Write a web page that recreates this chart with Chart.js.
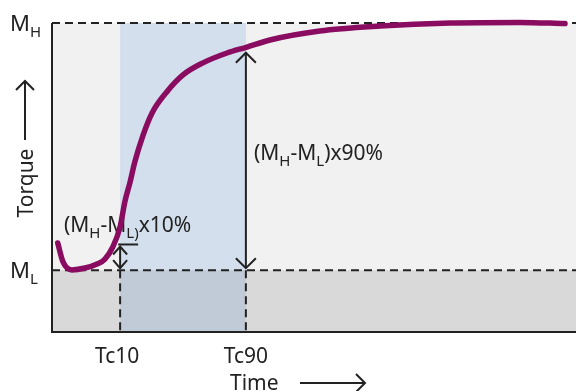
<!DOCTYPE html>
<html>
<head>
<meta charset="utf-8">
<script src="https://cdn.jsdelivr.net/npm/chart.js@4/dist/chart.umd.min.js"></script>
<style>
  html, body { margin: 0; padding: 0; background: #fff; }
  #wrap { width: 576px; height: 391px; }
</style>
</head>
<body>
<div id="wrap"><canvas id="cureChart"></canvas></div>
<script>
// rheometer cure curve, time 0-100, torque 0-100 (ML = 20, MH = 100)
var timeVals   = [1.1, 2.1, 3.8, 6.3, 8.6, 10.1, 11.6, 13, 13.9, 14.9, 15.8, 17.4, 19.1, 21.9, 25, 28.8, 33.4, 37.2, 41.6, 51.1, 62.6, 76, 89.3, 97.9]
var torqueVals = [28.8, 22.7, 20.1, 20.7, 22, 23.6, 27.5, 34, 42.1, 48.5, 55, 63.8, 70.9, 77.7, 83.2, 87.1, 90.3, 92.2, 94.5, 97.4, 99, 100, 100.2, 99.8]
var ML = 20
var MH = 100
var tickNames = ['Tc10', 'Tc90']
var tickTimes = [13, 37]

var FONT = '"Noto Sans", sans-serif'
var INK = '#222'

function drawParts(ctx, x, y, parts, size, subSize) {
  parts.forEach(function (p) {
    ctx.font = (p[1] ? subSize : size) + 'px ' + FONT
    ctx.fillText(p[0], x, y + (p[1] ? 6 : 0))
    x += ctx.measureText(p[0]).width
  })
}

function arrowHead(ctx, x, y, dir, w, h) {
  // dir: 'up','down','right'
  ctx.beginPath()
  if (dir == 'up') { ctx.moveTo(x - w, y + h); ctx.lineTo(x, y); ctx.lineTo(x + w, y + h) }
  if (dir == 'down') { ctx.moveTo(x - w, y - h); ctx.lineTo(x, y); ctx.lineTo(x + w, y - h) }
  if (dir == 'right') { ctx.moveTo(x - h, y - w); ctx.lineTo(x, y); ctx.lineTo(x - h, y + w) }
  ctx.stroke()
}

function line(ctx, x1, y1, x2, y2) {
  ctx.beginPath(); ctx.moveTo(x1, y1); ctx.lineTo(x2, y2); ctx.stroke()
}

var cureDecor = {
  id: 'cureDecor',
  beforeDatasetsDraw: function (chart) {
    var ctx = chart.ctx, a = chart.chartArea, xs = chart.scales.x, ys = chart.scales.y
    var yL = ys.getPixelForValue(ML), yH = ys.getPixelForValue(MH)
    var x10 = xs.getPixelForValue(tickTimes[0]), x90 = xs.getPixelForValue(tickTimes[1])
    ctx.save()
    ctx.fillStyle = '#f1f1f1'; ctx.fillRect(a.left, yH, a.right - a.left, yL - yH)
    ctx.fillStyle = '#d9d9d9'; ctx.fillRect(a.left, yL, a.right - a.left, a.bottom - yL)
    ctx.fillStyle = '#d3dfec'; ctx.fillRect(x10, yH, x90 - x10, yL - yH)
    ctx.fillStyle = '#c1cbd7'; ctx.fillRect(x10, yL, x90 - x10, a.bottom - yL)

    ctx.strokeStyle = INK
    ctx.lineWidth = 2
    // axes
    line(ctx, a.left, yH, a.left, a.bottom + 1)
    line(ctx, a.left, a.bottom, a.right, a.bottom)
    // dashed guides
    ctx.setLineDash([8, 5])
    line(ctx, a.left, yH, a.right, yH)
    line(ctx, a.left, yL, a.right, yL)
    line(ctx, x10, yL, x10, a.bottom)
    line(ctx, x90, yL, x90, a.bottom)
    ctx.setLineDash([])

    // texts
    ctx.fillStyle = INK
    ctx.textBaseline = 'alphabetic'
    ctx.textAlign = 'left'
    drawParts(ctx, 10, yH + 8, [['M'], ['H', 1]], 22, 15)
    drawParts(ctx, 10, yL + 8, [['M'], ['L', 1]], 22, 15)
    drawParts(ctx, 64, 232, [['(M'], ['H', 1], ['-M'], ['L)', 1], ['x10%']], 21, 15)
    drawParts(ctx, 254, 160, [['(M'], ['H', 1], ['-M'], ['L', 1], [')x90%']], 21, 15)

    ctx.font = '21px ' + FONT
    ctx.textAlign = 'center'
    tickNames.forEach(function (name, i) {
      ctx.fillText(name, xs.getPixelForValue(tickTimes[i]) - (i == 0 ? 3 : 0), 363)
    })
    ctx.textAlign = 'left'
    ctx.fillText('Time', 230, 390)

    ctx.save()
    ctx.translate(33, 183)
    ctx.rotate(-Math.PI / 2)
    ctx.textAlign = 'center'
    ctx.fillText('Torque', 0, 0)
    ctx.restore()

    // axis arrows
    line(ctx, 25, 140, 25, 81)
    arrowHead(ctx, 25, 81, 'up', 9, 9)
    line(ctx, 300, 383, 365, 383)
    arrowHead(ctx, 365, 383, 'right', 9, 9)
    ctx.restore()
  },
  afterDatasetsDraw: function (chart) {
    var ctx = chart.ctx, xs = chart.scales.x, ys = chart.scales.y
    var yL = ys.getPixelForValue(ML)
    var x10 = xs.getPixelForValue(tickTimes[0]), x90 = xs.getPixelForValue(tickTimes[1])
    var y90 = ys.getPixelForValue(ML + (MH - ML) * 0.9)
    var y10 = ys.getPixelForValue(ML + (MH - ML) * 0.1)
    ctx.save()
    ctx.strokeStyle = INK
    ctx.lineWidth = 2
    // 90% arrow
    line(ctx, x90, y90 + 5, x90, yL - 2)
    arrowHead(ctx, x90, y90 + 5, 'up', 10, 10)
    arrowHead(ctx, x90, yL - 2, 'down', 10, 10)
    // 10% arrow
    line(ctx, x10 - 2, y10 - 1, x10 + 18, y10 - 1)
    line(ctx, x10, y10 + 1, x10, yL - 2)
    arrowHead(ctx, x10, y10 + 1, 'up', 7, 8)
    arrowHead(ctx, x10, yL - 2, 'down', 7, 8)
    ctx.restore()
  }
}

new Chart(document.getElementById('cureChart'), {
  type: 'line',
  data: {
    datasets: [{
      data: timeVals.map(function (t, i) { return { x: t, y: torqueVals[i] } }),
      borderColor: '#8a0c60',
      borderWidth: 5.5,
      borderCapStyle: 'round',
      pointRadius: 0,
      fill: false,
      clip: false,
      cubicInterpolationMode: 'monotone'
    }]
  },
  options: {
    responsive: true,
    maintainAspectRatio: false,
    animation: false,
    layout: { padding: { left: 52, right: 0, top: 23, bottom: 59 } },
    plugins: { legend: { display: false }, tooltip: { enabled: false } },
    scales: {
      x: { type: 'linear', min: 0, max: 100, display: false },
      y: { min: 0, max: 100, display: false }
    }
  },
  plugins: [cureDecor]
})
</script>
</body>
</html>
